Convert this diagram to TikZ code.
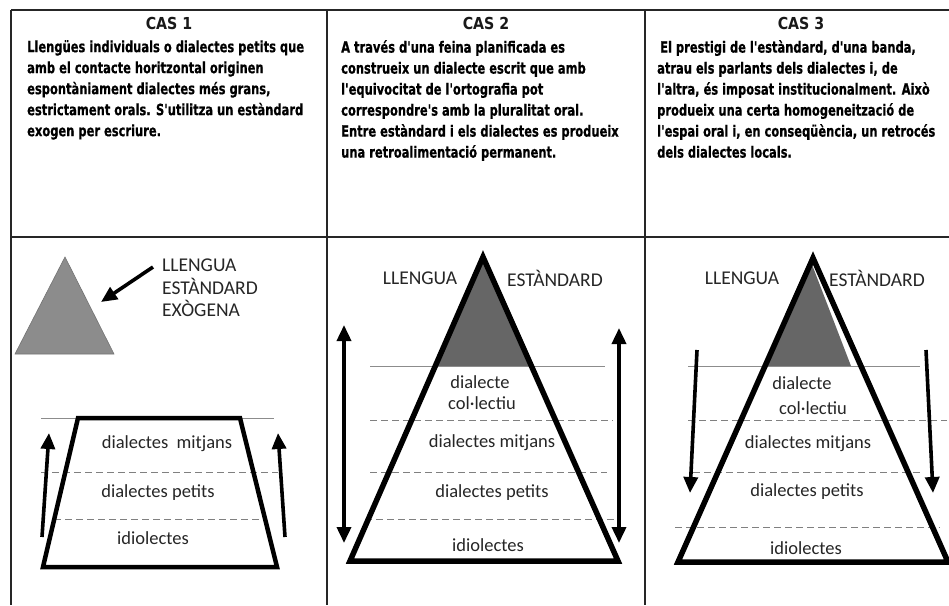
\documentclass[tikz,border=0pt]{standalone}
\usepackage{fontspec}
\usetikzlibrary{arrows.meta}
\newfontfamily\bodyfont[FakeStretch=0.74,FakeBold=0.6,Ligatures=TeXOff]{DejaVu Sans Bold}
\newfontfamily\headfont[FakeStretch=0.86]{DejaVu Sans Bold}
\newfontfamily\labfont{Carlito}
\begin{document}
\begin{tikzpicture}[x=1pt,y=-1pt,
  grid/.style={draw=black!85, line width=2.4pt},
  body/.style={anchor=north west, inner sep=0, align=left, text=black,
    font=\bodyfont\fontsize{15.5}{21}\selectfont},
  head/.style={inner sep=0, text=black!90, font=\headfont\fontsize{16.5}{18}\selectfont},
  lab/.style={inner sep=0, text=black!85, font=\labfont\fontsize{18.5}{21}\selectfont},
  biglab/.style={inner sep=0, text=black!85, align=left, font=\labfont\fontsize{19.5}{22.5}\selectfont},
  pyr/.style={draw=black, line width=5.5pt, line join=miter},
  thinline/.style={draw=black!45, line width=0.8pt},
  dashline/.style={draw=black!50, line width=1pt, dash pattern=on 7pt off 4pt},
  arr/.style={draw=black, line width=3.6pt, -{Triangle[length=16pt,width=14pt]}},
  darr/.style={draw=black, line width=3.6pt, {Triangle[length=16pt,width=14pt]}-{Triangle[length=16pt,width=14pt]}}
]
\useasboundingbox (0,0) rectangle (949,605);
\fill[white] (0,0) rectangle (949,605);

% ---------- table ----------
\draw[grid] (11,10) -- (949,10);
\draw[grid] (11,237) -- (949,237);
\draw[grid] (11,10) -- (11,605);
\draw[grid] (327,10) -- (327,605);
\draw[grid] (645,10) -- (645,605);

% ---------- headers ----------
\node[head] (h1) at (169,23) {CAS 1};
\node[head] (h2) at (486,23) {CAS 2};
\node[head] (h3) at (801,23) {CAS 3};

\node[body] (t1) at (27,40) {Llengües individuals o dialectes petits que\\amb el contacte horitzontal originen\\espontàniament dialectes més grans,\\estrictament orals. S'utilitza un estàndard\\exogen per escriure.};
\node[body] (t2) at (341,40) {A través d'una feina planificada es\\construeix un dialecte escrit que amb\\l'equivocitat de l'ortografia pot\\correspondre's amb la pluralitat oral.\\Entre estàndard i els dialectes es produeix\\una retroalimentació permanent.};
\node[body] (t3) at (657,40) {\hspace{3pt}El prestigi de l'estàndard, d'una banda,\\atrau els parlants dels dialectes i, de\\l'altra, és imposat institucionalment. Això\\produeix una certa homogeneització de\\l'espai oral i, en conseqüència, un retrocés\\dels dialectes locals.};

% ---------- CAS 1 ----------
\filldraw[fill=black!45, draw=black!55, line width=0.6pt] (65,257) -- (15,354) -- (114,354) -- cycle;
\node[biglab, anchor=west] (ext) at (162,288) {LLENGUA\\ESTÀNDARD\\EXÒGENA};
\coordinate (a1s) at (153,267);
\coordinate (a1e) at (101,302);
\draw[arr] (a1s) -- (a1e);

\draw[thinline] (41,418) -- (274,418);
\draw[dashline] (41,472) -- (278,472);
\draw[dashline] (54,519) -- (263,519);
\draw[pyr, line width=4.5pt] (78,418) -- (240,418) -- (277,567) -- (43,567) -- cycle;
\coordinate (u1s) at (42,537); \coordinate (u1e) at (49,433);
\coordinate (u2s) at (285,537); \coordinate (u2e) at (278,433);
\draw[arr] (u1s) -- (u1e);
\draw[arr] (u2s) -- (u2e);
\node[lab] (c1m) at (167,444) {dialectes\ \ mitjans};
\node[lab] (c1p) at (158,493) {dialectes petits};
\node[lab] (c1i) at (153,538) {idiolectes};

% ---------- CAS 2 ----------
\fill[black!60] (483,257) -- (435,366) -- (531,366) -- cycle;
\draw[thinline] (370,366) -- (605,366);
\draw[dashline] (370,420) -- (613,420);
\draw[dashline] (370,472) -- (607,472);
\draw[dashline] (365,519) -- (617,519);
\draw[pyr] (483,257) -- (350,561) -- (618,561) -- cycle;
\coordinate (d1s) at (344,325); \coordinate (d1e) at (344,543);
\coordinate (d2s) at (619,328); \coordinate (d2e) at (619,543);
\draw[darr] (d1s) -- (d1e);
\draw[darr] (d2s) -- (d2e);
\node[biglab] (l2a) at (420,278) {LLENGUA};
\node[biglab] (l2b) at (555,278) {ESTÀNDARD};
\node[lab] (c2d) at (480,382) {dialecte};
\node[lab] (c2c) at (482,403) {col·lectiu};
\node[lab] (c2m) at (492,443) {dialectes mitjans};
\node[lab] (c2p) at (492,493) {dialectes petits};
\node[lab] (c2i) at (488,545) {idiolectes};

% ---------- CAS 3 ----------
\fill[black!60] (811,262) -- (767,366) -- (851,366) -- cycle;
\draw[thinline] (688,366) -- (920,366);
\draw[dashline] (688,420) -- (947,420);
\draw[dashline] (693,472) -- (920,472);
\draw[dashline] (675,527) -- (940,527);
\draw[pyr] (813,258) -- (678,562) -- (948,562) -- cycle;
\coordinate (e1s) at (697,350); \coordinate (e1e) at (690,493);
\coordinate (e2s) at (926,350); \coordinate (e2e) at (933,493);
\draw[arr] (e1s) -- (e1e);
\draw[arr] (e2s) -- (e2e);
\node[biglab] (l3a) at (742,278) {LLENGUA};
\node[biglab] (l3b) at (877,278) {ESTÀNDARD};
\node[lab] (c3d) at (802,383) {dialecte};
\node[lab] (c3c) at (813,408) {col·lectiu};
\node[lab] (c3m) at (808,444) {dialectes mitjans};
\node[lab] (c3p) at (807,492) {dialectes petits};
\node[lab] (c3i) at (806,548) {idiolectes};
\end{tikzpicture}
\end{document}
